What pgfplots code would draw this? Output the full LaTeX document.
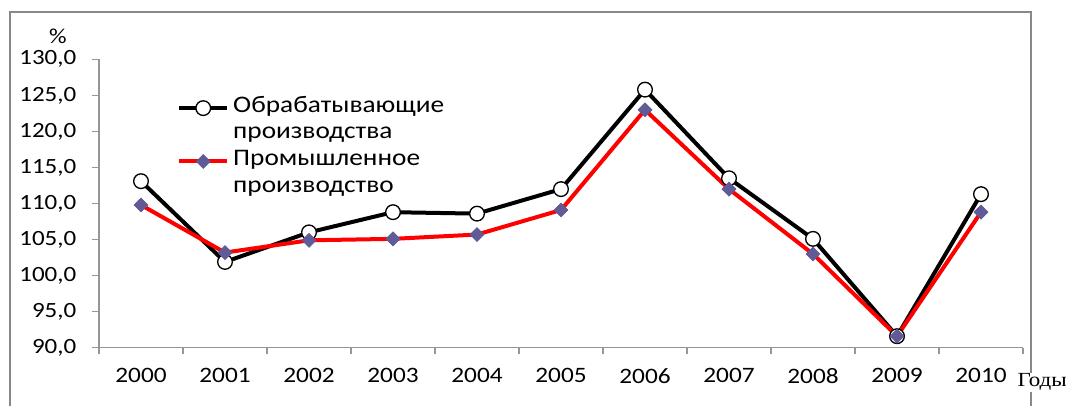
\documentclass[border=0pt]{standalone}
\usepackage{pgfplots}
\pgfplotsset{compat=1.18}
\usepackage{fontspec}
\setmainfont{Carlito}[FakeStretch=1.15]
\newfontfamily\timesf{Liberation Serif}[FakeStretch=1.15]
\definecolor{diam}{RGB}{96,90,150}
\definecolor{frame}{RGB}{136,136,136}
\definecolor{axgray}{RGB}{150,150,150}
\begin{document}
\begin{tikzpicture}
\useasboundingbox (0,0) rectangle (799.5pt,304.5pt);
\draw[frame, line width=1.5pt] (7.5pt,-10pt) -- (7.5pt,295.5pt) -- (772.9pt,295.5pt) -- (772.9pt,-10pt);
\begin{axis}[
  at={(74.25pt,43.7pt)}, anchor=south west,
  scale only axis, width=693pt, height=216.3pt,
  xmin=-0.5, xmax=10.5, ymin=90, ymax=130,
  clip=false,
  axis x line*=bottom, axis y line*=left,
  axis line style={draw=axgray, line width=0.8pt, -},
  xtick={0,...,10},
  xticklabels={2000,2001,2002,2003,2004,2005,2006,2007,2008,2009,2010},
  major x tick style={draw=none},
  minor xtick={-0.5,0.5,...,10.5},
  minor x tick style={draw=axgray, line width=0.8pt},
  minor tick length=4.5pt,
  ytick={90,95,...,130},
  major y tick style={draw=axgray, line width=0.8pt},
  major tick length=5pt,
  tick align=outside,
  /pgf/number format/.cd, fixed, fixed zerofill, precision=1, use comma, assume math mode=true,
  /pgfplots/.cd,
  yticklabel style={font=\fontsize{16.3}{19}\selectfont, xshift=-8.5pt},
  xticklabel style={font=\fontsize{16.5}{20}\selectfont, yshift=-7pt},
  legend style={at={(0.0844,0.878)}, anchor=north west, draw=none, fill=none, inner sep=0pt,
    font=\fontsize{17.8}{21}\selectfont,
    nodes={inner xsep=3pt, inner ysep=0pt, text height=13pt, text depth=7pt}},
  legend cell align=left,
  legend image code/.code={
    \draw[#1, mark=none] (0pt,0pt) -- (36pt,0pt);
    \draw[#1] plot coordinates {(18pt,0pt)};
  },
]
\addplot[black, line width=3pt, mark=*, mark size=5.5pt, mark options={fill=white, draw=black, line width=1pt}]
  coordinates {(0,113.1) (1,101.9) (2,106.0) (3,108.8) (4,108.6) (5,112.0) (6,125.8) (7,113.5) (8,105.1) (9,91.6) (10,111.3)};
\addlegendentry{Обрабатывающие}
\addlegendimage{empty legend}
\addlegendentry{производства}
\addplot[red, line width=3pt, mark=square*, mark size=3.7pt, mark options={rotate=45, fill=diam, draw=diam, line width=0.5pt}]
  coordinates {(0,109.8) (1,103.2) (2,104.9) (3,105.1) (4,105.7) (5,109.1) (6,123.0) (7,112.0) (8,103.0) (9,91.6) (10,108.8)};
\addlegendentry{Промышленное}
\addlegendimage{empty legend}
\addlegendentry{производство}
\end{axis}
\node[font=\fontsize{16}{18}\selectfont, inner sep=0pt] at (43.5pt,277pt) {\%};
\node[font=\timesf\fontsize{15}{17}\selectfont, fill=white, inner sep=1pt, anchor=base west] at (762pt,14.25pt) {Годы};
\end{tikzpicture}
\end{document}
